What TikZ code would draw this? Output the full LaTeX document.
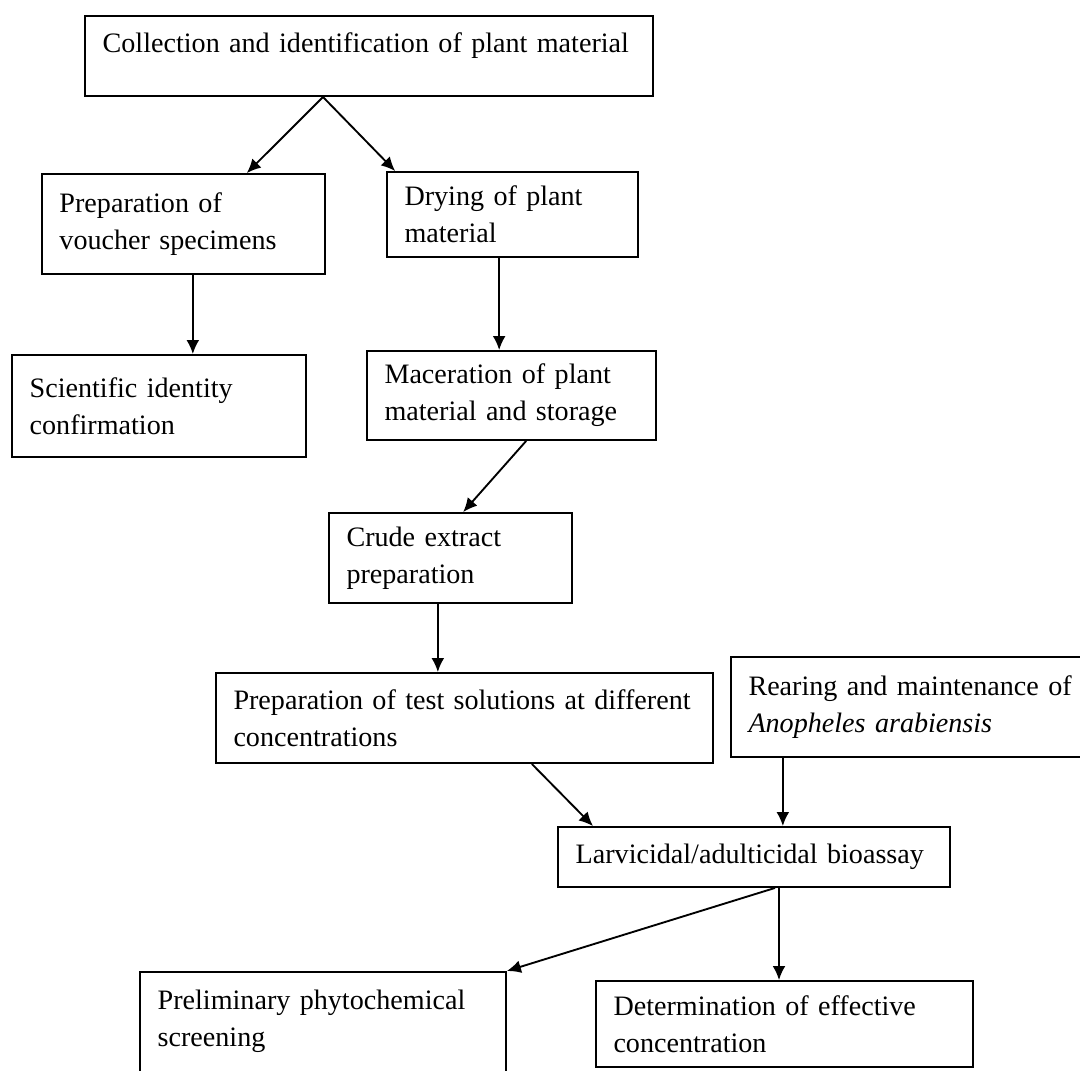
\documentclass[tikz,border=0pt]{standalone}
\usepackage{fontspec}
\setmainfont{Liberation Serif}
\usepackage{tikz}
\usetikzlibrary{positioning,arrows.meta}

\begin{document}
\begin{tikzpicture}[node distance=2cm, >={Latex[length=6pt,width=5.5pt]}, line width=0.8pt, every node/.style={rectangle, draw, align=left, inner xsep=7.5pt, inner ysep=4pt, font=\fontsize{12}{15.8}\selectfont}]
    \useasboundingbox (-5.535,0.84) rectangle (10.665,-15.21);

    \node (collect) [text width=7.99cm, text height=11.8pt, text depth=14.4pt] {Collection and identification of plant material};
    \node (voucher) [below of=collect, xshift=-2.7825cm, yshift=-0.52cm, text width=3.72cm, minimum height=1.5cm] {Preparation of\\voucher specimens};
    \node (drying) [below of=collect, xshift=2.1525cm, yshift=-0.3775cm, text width=3.24cm, minimum height=1.275cm] {Drying of plant\\material};
    \node (identity) [below of=voucher, xshift=-0.3675cm, yshift=-0.73cm, text width=3.88cm, minimum height=1.53cm] {Scientific identity\\confirmation};
    \node (macer) [below of=drying, xshift=-0.015cm, yshift=-0.715cm, text width=3.81cm, minimum height=1.335cm] {Maceration of plant\\material and storage};
    \node (crude) [below of=macer, xshift=-0.915cm, yshift=-0.4375cm, text width=3.12cm, minimum height=1.35cm] {Crude extract\\preparation};
    \node (testsol) [below of=crude, xshift=0.21cm, yshift=-0.4cm, text width=6.93cm, minimum height=1.35cm] {Preparation of test solutions at different\\concentrations};
    \node (rearing) [right of=testsol, xshift=4.76cm, yshift=0.165cm, text width=5.0cm, minimum height=1.5cm] {Rearing and maintenance of\\\textit{Anopheles arabiensis}};
    \node (bioassay) [below of=testsol, xshift=4.3425cm, yshift=-0.085cm, text width=5.35cm, minimum height=0.9cm] {Larvicidal/adulticidal bioassay};
    \node (phyto) [below of=bioassay, anchor=north, xshift=-6.465cm, yshift=0.29cm, text width=4.96cm, inner ysep=7.5pt, text depth=30pt] {Preliminary phytochemical\\screening};
    \node (effconc) [below of=bioassay, xshift=0.4575cm, yshift=-0.505cm, text width=5.13cm, minimum height=1.29cm] {Determination of effective\\concentration};

    \draw[->] ([xshift=-0.69cm]collect.south) -- ([xshift=0.95cm]voucher.north);
    \draw[->] ([xshift=-0.69cm]collect.south) -- ([xshift=-1.76cm]drying.north);
    \draw[->] ([xshift=0.14cm]voucher.south) -- ([xshift=0.14cm]voucher.south |- identity.north);
    \draw[->] ([xshift=-0.2cm]drying.south) -- ([xshift=-0.2cm]drying.south |- macer.north);
    \draw[->] ([xshift=0.22cm]macer.south) -- ([xshift=0.19cm]crude.north);
    \draw[->] ([xshift=-0.19cm]crude.south) -- ([xshift=-0.19cm]crude.south |- testsol.north);
    \draw[->] ([xshift=1.01cm]testsol.south) -- ([xshift=-2.415cm]bioassay.north);
    \draw[->] ([xshift=-1.985cm]rearing.south) -- ([xshift=-1.985cm]rearing.south |- bioassay.north);
    \draw[->] ([xshift=0.315cm]bioassay.south) -- (phyto.north east);
    \draw[->] ([xshift=0.375cm]bioassay.south) -- ([xshift=0.375cm]bioassay.south |- effconc.north);
\end{tikzpicture}
\end{document}
